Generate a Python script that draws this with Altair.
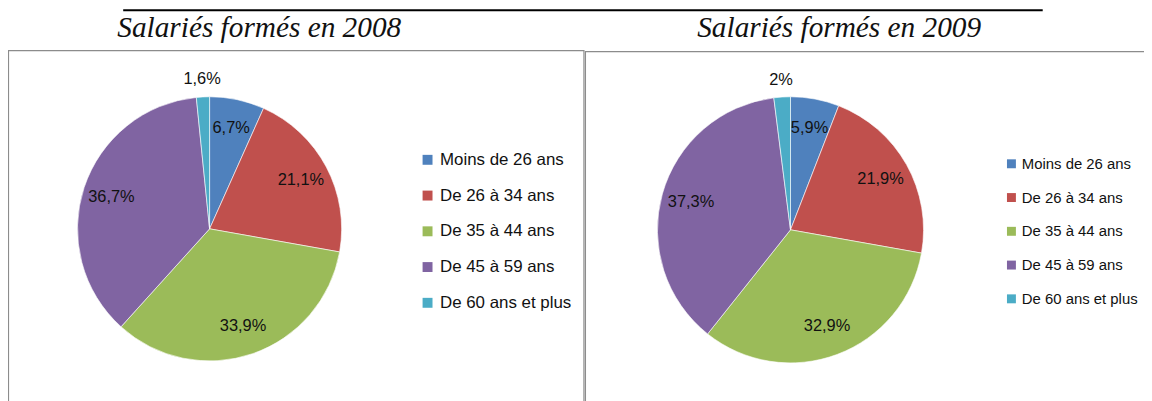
import altair as alt
import pandas as pd

categories = ["Moins de 26 ans", "De 26 à 34 ans", "De 35 à 44 ans", "De 45 à 59 ans", "De 60 ans et plus"]
values_2008 = [6.7, 21.1, 33.9, 36.7, 1.6]
values_2009 = [5.9, 21.9, 32.9, 37.3, 2.0]
labels_2008 = ["6,7%", "21,1%", "33,9%", "36,7%", "1,6%"]
labels_2009 = ["5,9%", "21,9%", "32,9%", "37,3%", "2%"]
titles = ["Salariés formés en 2008", "Salariés formés en 2009"]
colors = ["#4F81BD", "#C0504D", "#9BBB59", "#8064A2", "#4BACC6"]

df08 = pd.DataFrame({"cat": categories, "value": values_2008, "label": labels_2008, "idx": list(range(5))})
df09 = pd.DataFrame({"cat": categories, "value": values_2009, "label": labels_2009, "idx": list(range(5))})
one = pd.DataFrame({"a": [0]})

FONT = "Liberation Sans"


def pie(df, cx, cy, r, legend):
    base = alt.Chart(df).encode(
        theta=alt.Theta("value:Q", stack="normalize"),
        order=alt.Order("idx:Q"),
    )
    scale = alt.Scale(domain=categories, range=colors)
    arcs = base.mark_arc(outerRadius=r, stroke="white", strokeWidth=0.6).encode(
        x=alt.value(cx), y=alt.value(cy),
        color=alt.Color("cat:N", scale=scale, sort=categories, legend=legend))
    inner = base.mark_text(radius=104, font=FONT, fontSize=16.5, color="#111").encode(
        x=alt.value(cx), y=alt.value(cy),
        text=alt.condition("datum.idx < 4", alt.Text("label:N"), alt.value("")),
    )
    outer = base.mark_text(radius=151, font=FONT, fontSize=16.5, color="#111").encode(
        x=alt.value(cx), y=alt.value(cy),
        text=alt.condition("datum.idx == 4", alt.Text("label:N"), alt.value("")),
    )
    return alt.layer(arcs, inner, outer)


leg08 = alt.Legend(title=None, orient="none", legendX=414, legendY=143, symbolType="square",
                   symbolSize=100, symbolStrokeWidth=0, labelFont=FONT, labelFontSize=17,
                   labelColor="#111", rowPadding=18, labelOffset=4, padding=0)
leg09 = alt.Legend(title=None, orient="none", legendX=1003, legendY=148, symbolType="square",
                   symbolSize=81, symbolStrokeWidth=0, labelFont=FONT, labelFontSize=15,
                   labelColor="#111", rowPadding=18, labelOffset=3, padding=0)

frame_left = alt.Chart(one).mark_rect(filled=False, stroke="#8c8c8c", strokeWidth=1.2).encode(
    x=alt.value(0.5), x2=alt.value(580), y=alt.value(41.5), y2=alt.value(440))
frame_right = alt.Chart(one).mark_rect(filled=False, stroke="#8c8c8c", strokeWidth=1.2).encode(
    x=alt.value(581.5), x2=alt.value(1170), y=alt.value(42.5), y2=alt.value(440))

top_rule = alt.Chart(one).mark_rule(color="black", strokeWidth=2).encode(
    x=alt.value(116), x2=alt.value(1042), y=alt.value(1))

t1 = alt.Chart(pd.DataFrame({"t": [titles[0]]})).mark_text(
    font="Liberation Serif", fontStyle="italic", fontSize=29.5, color="#111", baseline="alphabetic"
).encode(text="t:N", x=alt.value(253), y=alt.value(28))
t2 = alt.Chart(pd.DataFrame({"t": [titles[1]]})).mark_text(
    font="Liberation Serif", fontStyle="italic", fontSize=29.5, color="#111", baseline="alphabetic"
).encode(text="t:N", x=alt.value(837), y=alt.value(28))

chart = alt.layer(
    frame_left, frame_right, top_rule, t1, t2,
    pie(df08, 203, 221, 133, leg08),
    pie(df09, 788, 222, 134, leg09),
).resolve_scale(color="independent", theta="independent").resolve_legend(
    color="independent"
).properties(
    width=1144, height=393, padding=0, autosize="none"
).configure_view(strokeWidth=0)

chart.save("out.html", embed_options={"renderer": "svg", "actions": False})
